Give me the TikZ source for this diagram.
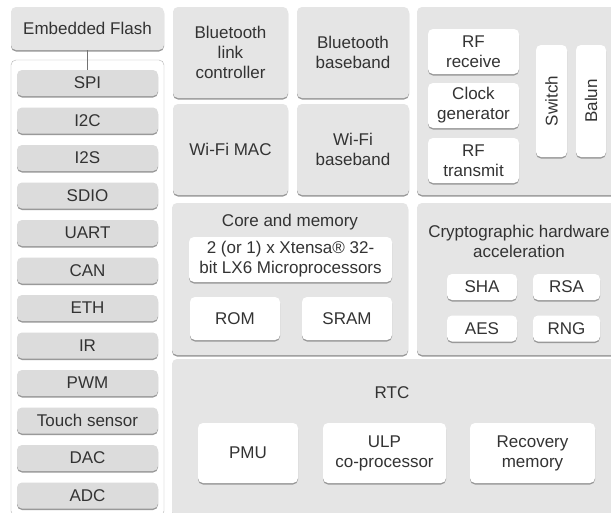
\documentclass[tikz,border=0pt]{standalone}
\usepackage{fontspec}
\setmainfont{Liberation Sans}
\usetikzlibrary{shadows}
\definecolor{blockgray}{HTML}{E5E5E5}
\definecolor{boxgray}{HTML}{DCDCDC}
\definecolor{edgegray}{HTML}{999999}
\definecolor{linegray}{HTML}{B4B4B4}
\definecolor{textgray}{HTML}{333333}
\begin{document}
\begin{tikzpicture}[x=1pt,y=-1pt,
  every node/.style={font=\fontsize{17}{20}\selectfont, text=textgray, align=center, inner sep=0pt},
  edge shadow/.style={drop shadow={shadow xshift=0pt, shadow yshift=-1.5pt, fill=edgegray, opacity=1}},
  block/.style={rectangle, rounded corners=5pt, fill=blockgray, edge shadow},
  whitebox/.style={rectangle, rounded corners=5pt, fill=white, edge shadow},
  periph/.style={rectangle, rounded corners=5pt, fill=boxgray, edge shadow, minimum width=141pt, minimum height=26pt}]
\useasboundingbox[fill=white] (0,0) rectangle (611,512);

\node[block, minimum width=153pt, minimum height=43pt] (flash) at (87.5,28.5) {Embedded Flash};
\node[rectangle, rounded corners=5pt, draw=linegray, fill=white, minimum width=153pt, minimum height=456pt] (periphs) at (87.5,288) {};
\foreach \name [count=\i from 0] in {SPI,I2C,I2S,SDIO,UART,CAN,ETH,IR,PWM,Touch sensor,DAC,ADC}
  \node[periph] (p\i) at (87.5,83+37.5*\i) {\name};
\draw[black!55] (flash) -- (p0);

\node[block, minimum width=115pt, minimum height=91pt] (btlink) at (230.5,52.5) {Bluetooth\\link\\controller};
\node[block, minimum width=112pt, minimum height=91pt] (btbase) at (353,52.5) {Bluetooth\\baseband};
\node[block, minimum width=115pt, minimum height=91pt] (wifimac) at (230.5,149.5) {Wi-Fi MAC};
\node[block, minimum width=112pt, minimum height=91pt] (wifibase) at (353,149.5) {Wi-Fi\\baseband};

\node[block, minimum width=199pt, minimum height=188pt] (radio) at (516.5,101) {};
\node[whitebox, minimum width=91pt, minimum height=45pt] (rfrx) at (473.5,51.5) {RF\\receive};
\node[whitebox, minimum width=91pt, minimum height=45pt] (clkgen) at (473.5,105.5) {Clock\\generator};
\node[whitebox, minimum width=91pt, minimum height=45pt] (rftx) at (473.5,160.5) {RF\\transmit};
\node[whitebox, minimum width=31pt, minimum height=112pt] (switch) at (551.5,101) {};
\node[rotate=90] (switchtxt) at (switch) {Switch};
\node[whitebox, minimum width=30pt, minimum height=112pt] (balun) at (591,101) {};
\node[rotate=90] (baluntxt) at (balun) {Balun};

\node[block, minimum width=236pt, minimum height=152pt] (core) at (290,279) {};
\node (coretitle) at (290,222) {Core and memory};
\node[whitebox, minimum width=203pt, minimum height=45pt] (xtensa) at (290.5,259.5) {2 (or 1) x Xtensa® 32-\\bit LX6 Microprocessors};
\node[whitebox, minimum width=90pt, minimum height=43pt] (rom) at (235,318.5) {ROM};
\node[whitebox, minimum width=90pt, minimum height=43pt] (sram) at (347,318.5) {SRAM};

\node[block, minimum width=199pt, minimum height=152pt] (crypto) at (516.5,279) {};
\node (cryptotitle) at (519,241) {Cryptographic hardware\\acceleration};
\node[whitebox, minimum width=70pt, minimum height=26pt] (sha) at (482,287) {SHA};
\node[whitebox, minimum width=67pt, minimum height=26pt] (rsa) at (566.5,287) {RSA};
\node[whitebox, minimum width=70pt, minimum height=26pt] (aes) at (482,328.5) {AES};
\node[whitebox, minimum width=67pt, minimum height=26pt] (rng) at (566.5,328.5) {RNG};

\node[block, minimum width=444pt, minimum height=158pt] (rtc) at (394,438) {};
\node (rtctitle) at (392,393) {RTC};
\node[whitebox, minimum width=100pt, minimum height=60pt] (pmu) at (248,453) {PMU};
\node[whitebox, minimum width=123pt, minimum height=60pt] (ulp) at (384.5,453) {ULP\\co-processor};
\node[whitebox, minimum width=125pt, minimum height=60pt] (recmem) at (532.5,453) {Recovery\\memory};
\end{tikzpicture}
\end{document}
